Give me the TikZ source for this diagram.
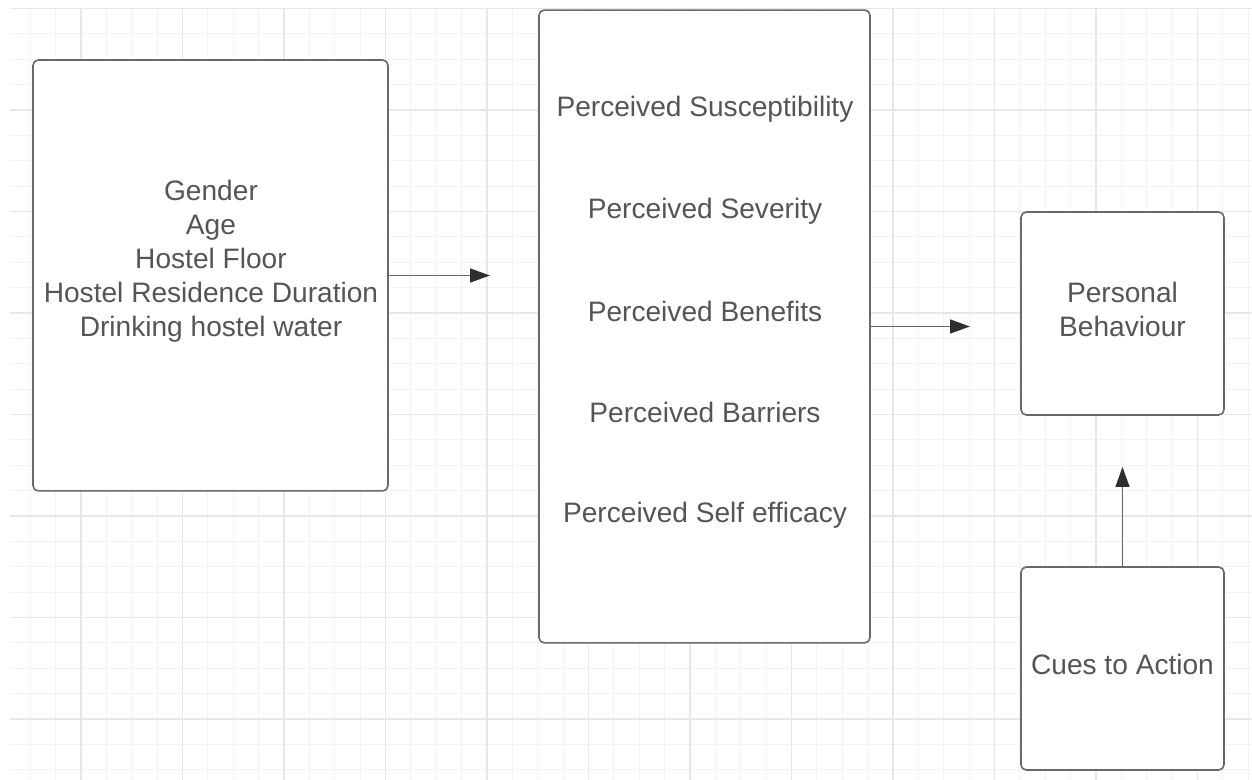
\documentclass[tikz,border=0pt]{standalone}
\usepackage{fontspec}
\setmainfont{Liberation Sans}
\usepackage{tikz}
\usetikzlibrary{arrows.meta, positioning}
\definecolor{mygrid}{RGB}{243,243,243}
\definecolor{mygridmajor}{RGB}{231,231,231}
\definecolor{myframe}{RGB}{105,105,105}
\definecolor{mytext}{RGB}{85,85,85}
\definecolor{mytip}{RGB}{45,45,50}
\tikzset{
  box/.style={rectangle, draw=myframe, fill=white, rounded corners=3pt,
    line width=0.9pt, font=\fontsize{16}{19.4}\selectfont, text=mytext, align=center},
  txt/.style={font=\fontsize{16}{19.4}\selectfont, text=mytext, align=center},
  arrow/.style={-{Triangle[length=0.4cm, width=0.28cm, color=mytip]}, line width=0.9pt, color=myframe},
  gridline/.style={mygrid, line width=0.55pt},
  majorline/.style={mygridmajor, line width=0.6pt}
}

\begin{document}
\begin{tikzpicture}[x=0.02cm, y=-0.02cm]
  \useasboundingbox (0,0) rectangle (1252,780);
  % Background grid
  \foreach \k in {-2,...,46}
    \draw[gridline] ({81+25.375*\k},8) -- ({81+25.375*\k},780);
  \foreach \k in {-4,...,26}
    \draw[gridline] (10,{110+25.375*\k}) -- (1252,{110+25.375*\k});
  \foreach \k in {0,...,11}
    \draw[majorline] ({81+101.5*\k},8) -- ({81+101.5*\k},780);
  \foreach \k in {-1,...,6}
    \draw[majorline] (10,{110+101.5*\k}) -- (1252,{110+101.5*\k});
  % Boxes
  \node[box, minimum width=7.1cm, minimum height=8.62cm] (demo) at (210.5,275.5) {};
  \node[box, minimum width=6.62cm, minimum height=12.66cm] (hbm) at (704.5,326.5) {};
  \node[box, minimum width=4.06cm, minimum height=4.06cm, text depth=0.18cm] (behav) at (1122.5,313.5) {Personal\\Behaviour};
  \node[box, minimum width=4.06cm, minimum height=4.06cm, text depth=0.15cm] (cues) at (1122.5,668.5) {Cues to Action};
  % Box texts
  \node[txt] (demotxt) at (211,261) {Gender\\Age\\Hostel Floor\\Hostel Residence Duration\\Drinking hostel water};
  \node[txt] (susc) at (705,109) {Perceived Susceptibility};
  \node[txt] (sev) at (705,211) {Perceived Severity};
  \node[txt] (ben) at (705,311) {Perceived Benefits};
  \node[txt] (bar) at (705,412) {Perceived Barriers};
  \node[txt] (eff) at (705,515) {Perceived Self efficacy};
  % Arrow ends
  \coordinate (a1) at (490,275.5);
  \coordinate (a2) at (970,326.5);
  \coordinate (a3) at (1122.5,467);
  \draw[arrow] (demo.east) -- (a1);
  \draw[arrow] (hbm.east) -- (a2);
  \draw[arrow] (cues.north) -- (a3);
\end{tikzpicture}
\end{document}
